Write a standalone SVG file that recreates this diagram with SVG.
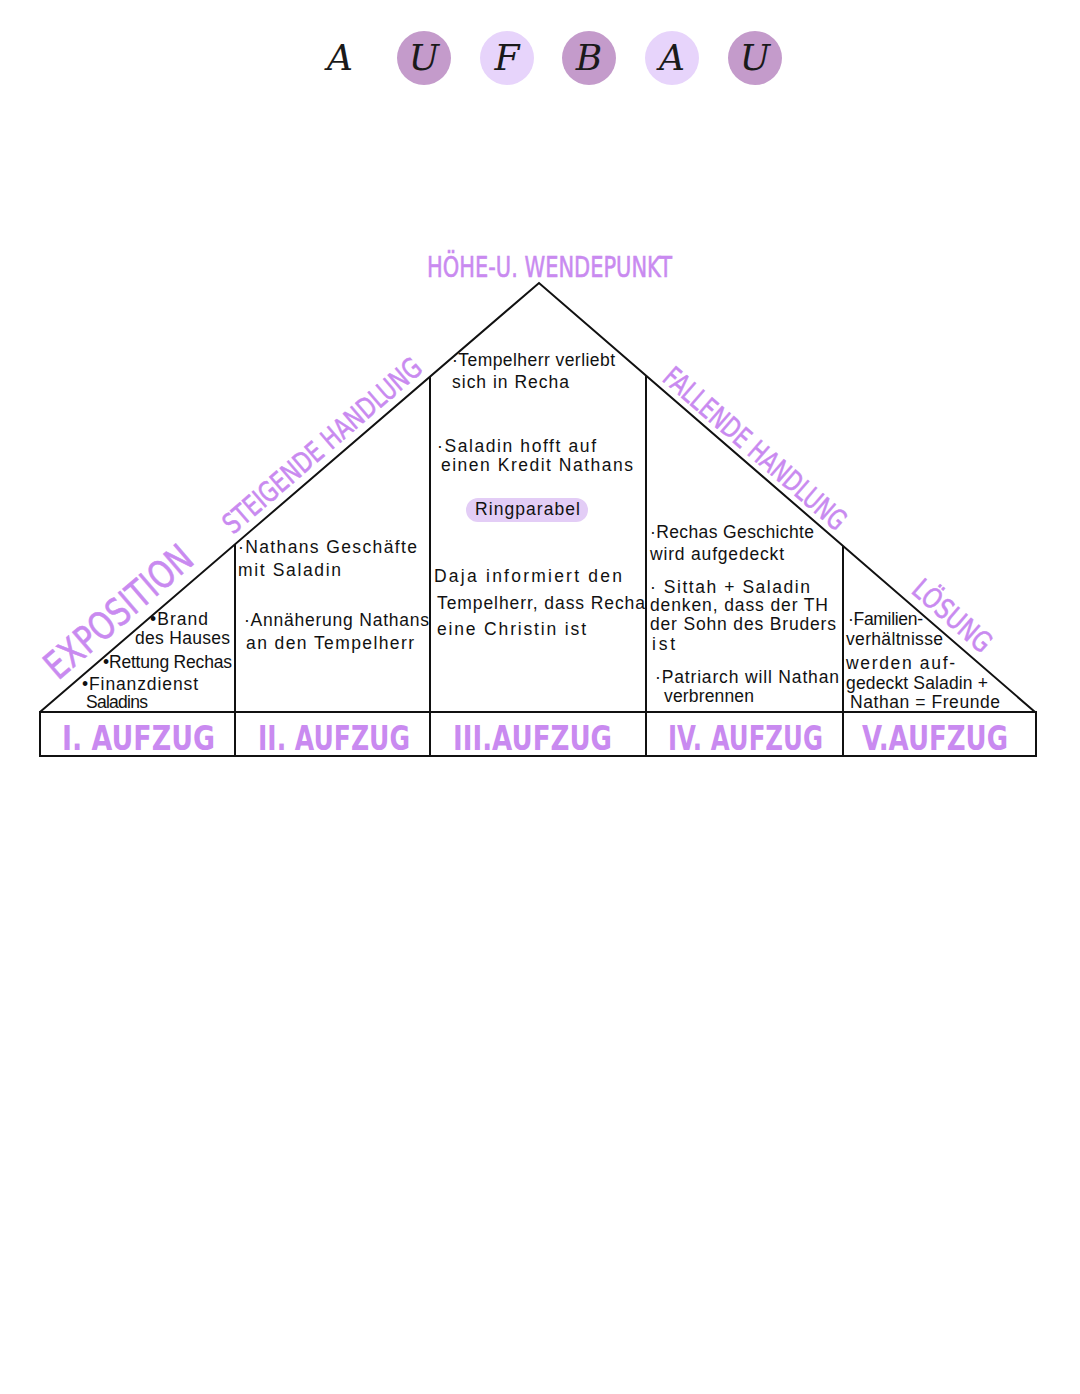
<svg xmlns="http://www.w3.org/2000/svg" width="1080" height="1394" viewBox="0 0 1080 1394">
<style>
.ln{fill:none;stroke:#111;stroke-width:2;stroke-linejoin:miter}
.ttl{font-family:"DejaVu Serif",serif;font-style:italic;font-size:36px;fill:#1a1a1a;text-anchor:middle}
.dk{fill:#c49bcb}
.lt{fill:#e7d4fb}
.pl{font-family:"DejaVu Sans","Noto Sans",sans-serif;fill:#c98af0;stroke:#c98af0;stroke-width:0.6}
.act{font-family:"DejaVu Sans","Noto Sans",sans-serif;font-weight:bold;font-size:33px;fill:#c98af0}
.t{font-family:"Liberation Sans","Noto Sans",sans-serif;font-size:17.5px;fill:#111}
</style>
<rect width="1080" height="1394" fill="#fff"/>
<g id="title">
  <text class="ttl" x="340" y="70">A</text>
  <circle class="dk" cx="424" cy="58" r="27"/><text class="ttl" x="424" y="70">U</text>
  <circle class="lt" cx="507" cy="58" r="27"/><text class="ttl" x="507" y="70">F</text>
  <circle class="dk" cx="589" cy="58" r="27"/><text class="ttl" x="589" y="70">B</text>
  <circle class="lt" cx="672" cy="58" r="27"/><text class="ttl" x="672" y="70">A</text>
  <circle class="dk" cx="755" cy="58" r="27"/><text class="ttl" x="755" y="70">U</text>
</g>
<g id="connectors">
  <path class="ln" d="M40,712 L539,283 L1035,712"/>
  <rect class="ln" x="40" y="712" width="996" height="44"/>
  <line class="ln" x1="235" y1="544" x2="235" y2="756"/>
  <line class="ln" x1="430" y1="376" x2="430" y2="756"/>
  <line class="ln" x1="646" y1="376" x2="646" y2="756"/>
  <line class="ln" x1="843" y1="546" x2="843" y2="756"/>
</g>
<g id="phase-labels">
  <text class="pl" x="427" y="277" font-size="29" textLength="245" lengthAdjust="spacingAndGlyphs">HÖHE-U. WENDEPUNKT</text>
  <text class="pl" font-size="38" textLength="182" lengthAdjust="spacingAndGlyphs" transform="translate(58,681) rotate(-40.7)">EXPOSITION</text>
  <text class="pl" font-size="28" textLength="252" lengthAdjust="spacingAndGlyphs" transform="translate(233,535) rotate(-40.7)">STEIGENDE HANDLUNG</text>
  <text class="pl" font-size="28" textLength="232" lengthAdjust="spacingAndGlyphs" transform="translate(661,380) rotate(40.9)">FALLENDE HANDLUNG</text>
  <text class="pl" font-size="28" textLength="95" lengthAdjust="spacingAndGlyphs" transform="translate(910,592) rotate(40.9)">LÖSUNG</text>
</g>
<g id="act1">
  <text class="t" x="150" y="625" textLength="58">•Brand</text>
  <text class="t" x="135" y="644" textLength="95">des Hauses</text>
  <text class="t" x="103" y="668" textLength="129">•Rettung Rechas</text>
  <text class="t" x="82" y="690" font-size="16" textLength="116">•Finanzdienst</text>
  <text class="t" x="86" y="708" font-size="14" textLength="62">Saladins</text>
  <text class="act" x="62" y="750" textLength="153" lengthAdjust="spacingAndGlyphs">I. AUFZUG</text>
</g>
<g id="act2">
  <text class="t" x="238" y="553" textLength="179">·Nathans Geschäfte</text>
  <text class="t" x="238" y="576" textLength="103">mit Saladin</text>
  <text class="t" x="244" y="626" textLength="185">·Annäherung Nathans</text>
  <text class="t" x="246" y="649" textLength="168">an den Tempelherr</text>
  <text class="act" x="258" y="750" textLength="152" lengthAdjust="spacingAndGlyphs">II. AUFZUG</text>
</g>
<g id="act3">
  <text class="t" x="452" y="366" textLength="163">·Tempelherr verliebt</text>
  <text class="t" x="452" y="388" textLength="117">sich in Recha</text>
  <text class="t" x="437" y="452" textLength="159">·Saladin hofft auf</text>
  <text class="t" x="441" y="471" textLength="192">einen Kredit Nathans</text>
  <rect x="466" y="498" width="122" height="24" rx="12" fill="#e3cdf6"/>
  <text class="t" x="475" y="515" textLength="105">Ringparabel</text>
  <text class="t" x="434" y="582" textLength="188">Daja informiert den</text>
  <text class="t" x="437" y="609" textLength="208">Tempelherr, dass Recha</text>
  <text class="t" x="437" y="635" textLength="149">eine Christin ist</text>
  <text class="act" x="453" y="750" textLength="159" lengthAdjust="spacingAndGlyphs">III.AUFZUG</text>
</g>
<g id="act4">
  <text class="t" x="650" y="538" textLength="164">·Rechas Geschichte</text>
  <text class="t" x="650" y="560" textLength="134">wird aufgedeckt</text>
  <text class="t" x="650" y="593" textLength="160">· Sittah + Saladin</text>
  <text class="t" x="650" y="611" textLength="178">denken, dass der TH</text>
  <text class="t" x="650" y="630" textLength="186">der Sohn des Bruders</text>
  <text class="t" x="652" y="650" textLength="23">ist</text>
  <text class="t" x="655" y="683" textLength="184">·Patriarch will Nathan</text>
  <text class="t" x="664" y="702" textLength="90">verbrennen</text>
  <text class="act" x="668" y="750" textLength="155" lengthAdjust="spacingAndGlyphs">IV. AUFZUG</text>
</g>
<g id="act5">
  <text class="t" x="848" y="625" textLength="75">·Familien-</text>
  <text class="t" x="846" y="645" textLength="97">verhältnisse</text>
  <text class="t" x="846" y="669" textLength="109">werden auf-</text>
  <text class="t" x="846" y="689" textLength="142">gedeckt Saladin +</text>
  <text class="t" x="850" y="708" textLength="150">Nathan = Freunde</text>
  <text class="act" x="862" y="750" textLength="146" lengthAdjust="spacingAndGlyphs">V.AUFZUG</text>
</g>
</svg>
